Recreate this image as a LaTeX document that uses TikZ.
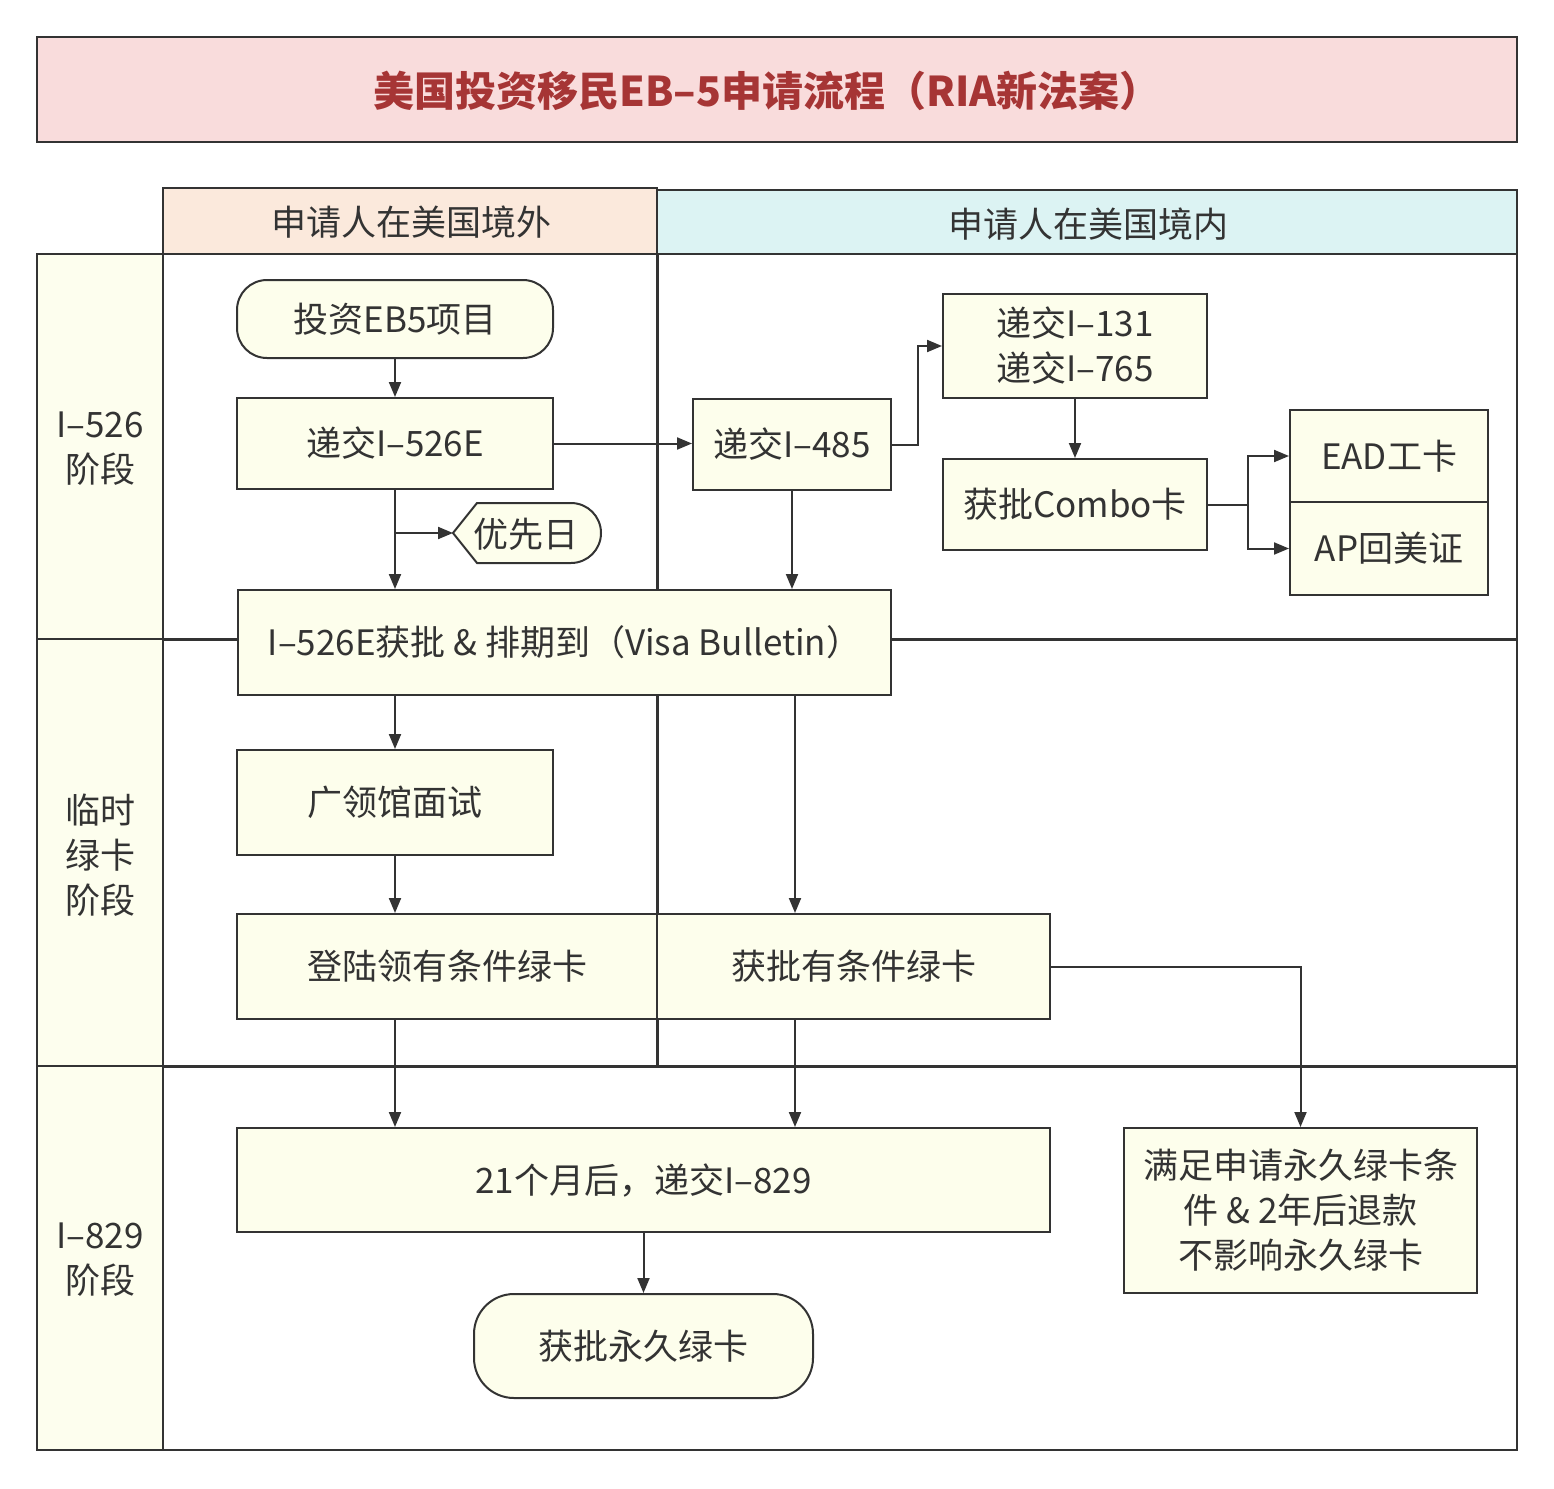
\documentclass[tikz,border=0pt]{standalone}
\usepackage{fontspec}
\setmainfont{Noto Sans CJK SC}
\usetikzlibrary{arrows.meta}
\definecolor{ln}{HTML}{333333}
\definecolor{boxY}{HTML}{FDFEEC}
\definecolor{laneY}{HTML}{FDFEEE}
\definecolor{titleBg}{HTML}{F9DCDC}
\definecolor{titleFg}{HTML}{A63535}
\definecolor{hdrOut}{HTML}{FBE9DC}
\definecolor{hdrIn}{HTML}{DCF3F3}
\begin{document}
\begin{tikzpicture}[x=1pt,y=-1pt,font=\fontsize{35}{45}\selectfont,
  box/.style={draw=ln,line width=2pt,fill=boxY,text=ln,inner sep=0pt,align=center},
  arr/.style={draw=ln,line width=2pt,-{Triangle[length=15pt,width=12pt]}},
  lane/.style={draw=ln,line width=2pt},
  laneb/.style={draw=ln,line width=3pt},
  lbl/.style={text=ln,align=center,inner sep=0pt}]
\useasboundingbox (0,0) rectangle (1554,1488);
\fill[white] (0,0) rectangle (1554,1488);
% title
\draw[lane,fill=titleBg] (37,37) rectangle (1517,142);
\node[text=titleFg,font=\fontsize{41}{48}\selectfont\bfseries] (title) at (767,91) {美国投资移民EB–5申请流程（RIA新法案）};
% headers
\draw[lane,fill=hdrOut] (163,188) rectangle (657,254);
\draw[lane,fill=hdrIn] (657,190) rectangle (1517,254);
\node[lbl] (hout) at (411,222) {申请人在美国境外};
\node[lbl] (hin) at (1088,224) {申请人在美国境内};
% lanes
\draw[lane,fill=laneY] (37,254) rectangle (163,639);
\draw[lane,fill=laneY] (37,639) rectangle (163,1066);
\draw[lane,fill=laneY] (37,1066) rectangle (163,1450);
\draw[lane,fill=white] (163,254) rectangle (1517,1450);
\draw[laneb] (163,639) -- (1517,639);
\draw[laneb] (163,1066) -- (1517,1066);
\draw[laneb] (657,254) -- (657,1066);
\node[lbl] (l1) at (100,449) {I–526\\阶段};
\node[lbl] (l2) at (100,855) {临时\\绿卡\\阶段};
\node[lbl] (l3) at (100,1260) {I–829\\阶段};
% nodes
\node[box,rounded corners=30pt,minimum width=316pt,minimum height=78pt] (eb5) at (395,319) {投资EB5项目};
\node[box,minimum width=316pt,minimum height=91pt] (i526) at (395,443.5) {递交I–526E};
\node[box,minimum width=198pt,minimum height=91pt] (i485) at (792,444.5) {递交I–485};
\node[box,minimum width=264pt,minimum height=104pt] (i131) at (1075,346) {递交I–131\\递交I–765};
\node[box,minimum width=264pt,minimum height=91pt] (combo) at (1075,504.5) {获批Combo卡};
\node[box,minimum width=198pt,minimum height=92pt] (ead) at (1389,456) {EAD工卡};
\node[box,minimum width=198pt,minimum height=93pt] (ap) at (1389,548.5) {AP回美证};
\draw[box] (453,533) -- (477,503) -- (571,503) .. controls (587.6,503) and (601,516.4) .. (601,533) .. controls (601,549.6) and (587.6,563) .. (571,563) -- (477,563) -- cycle;
\coordinate (prioL) at (453,533);
\node[lbl] (prio) at (526,534) {优先日};
\node[box,minimum width=653pt,minimum height=105pt] (approve) at (564.5,642.5) {I–526E获批 \& 排期到（Visa Bulletin）};
\node[box,minimum width=316pt,minimum height=105pt] (interview) at (395,802.5) {广领馆面试};
\node[box,minimum width=420pt,minimum height=105pt] (land) at (447,966.5) {登陆领有条件绿卡};
\node[box,minimum width=393pt,minimum height=105pt] (cond) at (853.5,966.5) {获批有条件绿卡};
\node[box,minimum width=813pt,minimum height=104pt] (i829) at (643.5,1180) {21个月后，递交I–829};
\node[box,minimum width=353pt,minimum height=165pt] (cond2) at (1300.5,1210.5) {满足申请永久绿卡条\\件 \& 2年后退款\\不影响永久绿卡};
\node[box,rounded corners=40pt,minimum width=339pt,minimum height=104pt] (perm) at (643.5,1346) {获批永久绿卡};
% arrows
\draw[arr] (eb5.south) -- (i526.north);
\draw[arr] (i526.east) -- (i526.east -| i485.west);
\draw[arr] (i526.south) -- (i526.south |- approve.north);
\draw[arr] (i526.south |- prioL) -- (prioL);
\draw[arr] (i485.east) -- ++(26,0) |- (i131.west);
\draw[arr] (i131.south) -- (combo.north);
\draw[arr] (combo.east) -- ++(40,0) coordinate (split) |- (ead.west);
\draw[arr] (split) |- (ap.west);
\draw[arr] (i485.south) -- (i485.south |- approve.north);
\draw[arr] (approve.south -| interview) -- (interview.north);
\draw[arr] (approve.south -| 795,0) -- (cond.north -| 795,0);
\draw[arr] (interview.south) -- (land.north -| interview);
\draw[arr] (land.south -| interview) -- (i829.north -| interview);
\draw[arr] (cond.south -| 795,0) -- (i829.north -| 795,0);
\draw[arr] (cond.east) -| (cond2.north);
\draw[arr] (i829.south) -- (perm.north);
\end{tikzpicture}
\end{document}
